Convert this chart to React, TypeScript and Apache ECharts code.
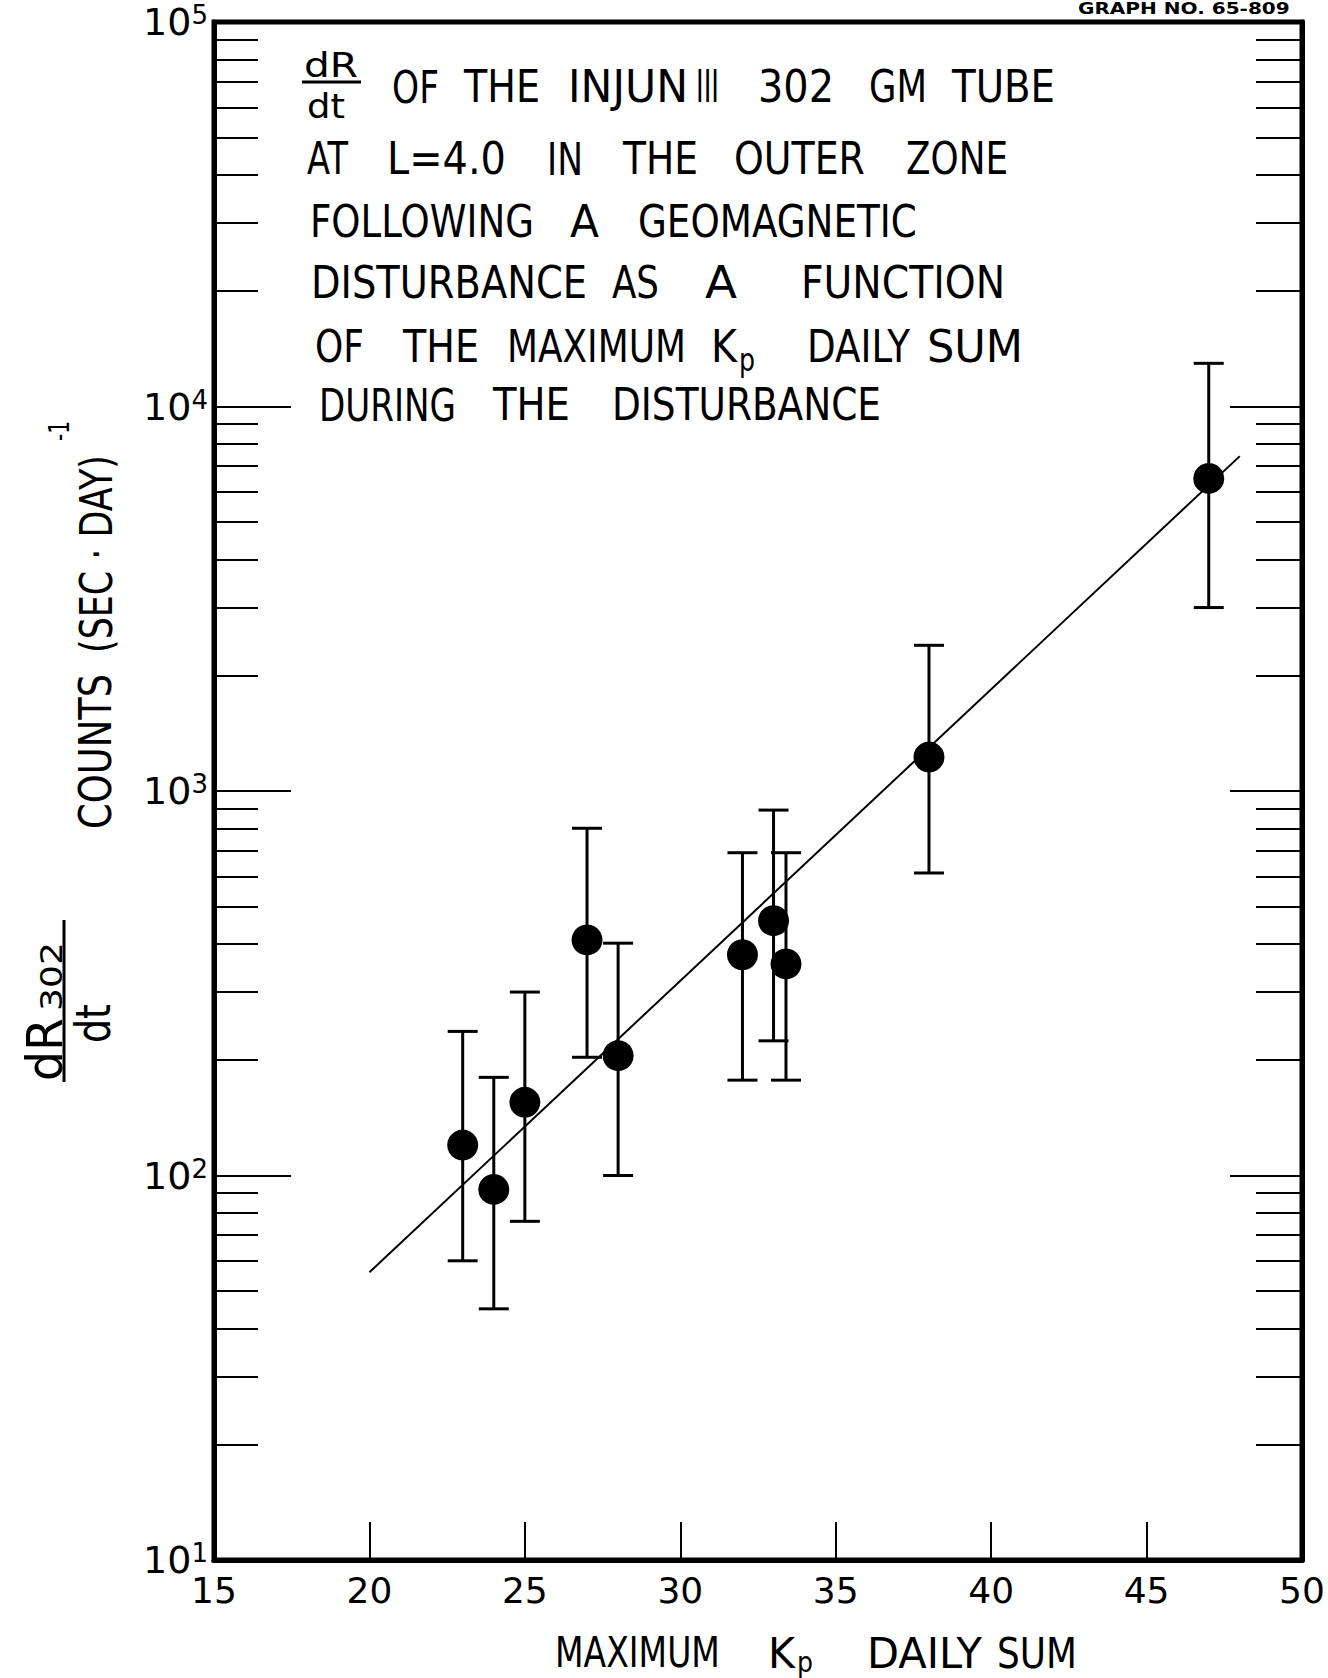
import React, { useEffect, useRef } from "react";
import * as echarts from "echarts";

// ---- data ----
const kpSum = [23, 24, 25, 27, 28, 32, 33, 33.4, 38, 47];
const rate = [120, 92, 155, 410, 205, 375, 460, 355, 1225, 6500];
const rateLow = [60, 45, 76, 203, 100, 177, 224, 177, 612, 3000];
const rateHigh = [237, 180, 300, 800, 402, 691, 892, 691, 2393, 12950];
const fitKp = [20, 48];
const fitRate = [56, 7430];
const xMin = 15;
const xMax = 50;
const xStep = 5;
const yMin = 10;
const yMax = 100000;
const yMajorTicks = [10, 100, 1000, 10000, 100000];
const yMinorTicks = [
  20, 30, 40, 50, 60, 70, 80, 90,
  200, 300, 400, 500, 600, 700, 800, 900,
  2000, 3000, 4000, 5000, 6000, 7000, 8000, 9000,
  20000, 30000, 40000, 50000, 60000, 70000, 80000, 90000,
];

const FONT = "'DejaVu Sans', sans-serif";

let measureCtx: CanvasRenderingContext2D | null = null;
function measure(t: string, size: number, weight = "normal"): number {
  if (!measureCtx) measureCtx = document.createElement("canvas").getContext("2d");
  measureCtx!.font = `${weight} ${size}px 'DejaVu Sans'`;
  return measureCtx!.measureText(t).width;
}

// word: text, left, right, cap-centre y, font size
type Word = [string, number, number, number, number];

const titleWords: Word[] = [
  ["OF", 392, 439, 85, 44], ["THE", 464, 540, 85, 44], ["INJUN", 568, 688, 85, 44], ["III", 696, 719, 85, 44],
  ["302", 758, 834, 85, 44], ["GM", 869, 927, 85, 44], ["TUBE", 952, 1055, 85, 44],
  ["AT", 307, 348, 157, 44], ["L=4.0", 387, 506, 157, 44], ["IN", 547, 583, 157, 44], ["THE", 623, 698, 157, 44],
  ["OUTER", 734, 865, 157, 44], ["ZONE", 906, 1008, 157, 44],
  ["FOLLOWING", 310, 534, 220, 44], ["A", 570, 599, 220, 44], ["GEOMAGNETIC", 638, 917, 220, 44],
  ["DISTURBANCE", 311, 587, 281, 44], ["AS", 612, 659, 281, 44], ["A", 705, 737, 281, 44], ["FUNCTION", 801, 1005, 281, 44],
  ["OF", 315, 364, 345, 44], ["THE", 403, 479, 345, 44], ["MAXIMUM", 507, 686, 345, 44], ["K", 711, 737, 345, 44],
  ["p", 739, 755, 358, 32], ["DAILY", 807, 910, 345, 44], ["SUM", 927, 1023, 345, 44],
  ["DURING", 319, 456, 403, 44], ["THE", 493, 570, 403, 44], ["DISTURBANCE", 612, 881, 403, 44],
  ["dR", 304, 358, 63, 34], ["dt", 307, 345, 104, 34],
  ["MAXIMUM", 555, 720, 1651, 42], ["K", 768, 795, 1651, 42], ["p", 797, 813, 1660, 28],
  ["DAILY", 867, 982, 1651, 42], ["SUM", 997, 1077, 1651, 42],
];

// rotated words: text, bottom y, top y, centre x, font size
const yNameWords: Word[] = [
  ["COUNTS", 829, 674, 94, 44],
  ["(SEC · DAY)", 653, 455, 94, 44],
  ["-1", 441, 421, 57, 28],
  ["dR", 1081, 1018, 43, 50],
  ["302", 1011, 942, 50, 30],
  ["dt", 1043, 1004, 91, 48],
];

function flatWord(w: Word): any {
  const [t, x0, x1, yc, size] = w;
  return {
    type: "text",
    x: x0,
    y: yc + 2,
    scaleX: (x1 - x0) / measure(t, size),
    style: {
      text: t, fontSize: size, fontFamily: FONT, fill: "#000",
      textAlign: "left", textVerticalAlign: "middle", align: "left", verticalAlign: "middle",
    },
  };
}

function rotWord(w: Word): any {
  const [t, y0, y1, xc, size] = w;
  return {
    type: "text",
    x: xc + 2,
    y: y0,
    rotation: Math.PI / 2,
    scaleX: (y0 - y1) / measure(t, size),
    style: {
      text: t, fontSize: size, fontFamily: FONT, fill: "#000",
      textAlign: "left", textVerticalAlign: "middle", align: "left", verticalAlign: "middle",
    },
  };
}

export default function App() {
  const ref = useRef<HTMLDivElement>(null);
  useEffect(() => {
    if (!ref.current) return;
    const chart = echarts.init(ref.current, null, { renderer: "svg" });
    const black = "#000";
    const graphics: any[] = [
      ...titleWords.map(flatWord),
      ...yNameWords.map(rotWord),
      { type: "line", shape: { x1: 302, y1: 82, x2: 361, y2: 82 }, style: { stroke: black, lineWidth: 3 } },
      { type: "line", shape: { x1: 64, y1: 1082, x2: 64, y2: 920 }, style: { stroke: black, lineWidth: 3 } },
      {
        type: "text", x: 1078, y: 16,
        scaleX: 212 / measure("GRAPH NO. 65-809", 15, "bold"),
        style: {
          text: "GRAPH NO. 65-809", fontSize: 15, fontWeight: "bold", fontFamily: FONT, fill: black,
          textAlign: "left", textVerticalAlign: "bottom", align: "left", verticalAlign: "bottom",
        },
      },
    ];

    const yAxisBase = {
      type: "log",
      logBase: 10,
      min: yMin,
      max: yMax,
      splitNumber: 4,
      splitLine: { show: false },
      minorTick: { show: false },
      minorSplitLine: { show: false },
    };
    const tickStyle = { color: black, width: 2 };

    chart.setOption({
      animation: false,
      backgroundColor: "#fff",
      grid: { left: 214, top: 22, width: 1088, height: 1538, show: true, borderColor: black, borderWidth: 5, backgroundColor: "transparent" },
      xAxis: {
        type: "value",
        min: xMin,
        max: xMax,
        interval: xStep,
        axisLine: { show: true, lineStyle: { color: black, width: 5 } },
        axisTick: { show: true, inside: true, length: 38, lineStyle: tickStyle },
        axisLabel: { color: black, fontSize: 36, fontFamily: FONT, margin: 12 },
        splitLine: { show: false },
      },
      yAxis: [
        {
          ...yAxisBase,
          position: "left",
          axisLine: { show: true, lineStyle: { color: black, width: 5 } },
          axisTick: { show: true, inside: true, length: 77, lineStyle: tickStyle, customValues: yMajorTicks },
          axisLabel: {
            margin: 6,
            formatter: (v: number) => `{b|10}{s|${Math.round(Math.log10(v))}}`,
            rich: {
              b: { fontSize: 38, fontFamily: FONT, color: black, lineHeight: 40 },
              s: { fontSize: 26, fontFamily: FONT, color: black, lineHeight: 22, verticalAlign: "top" },
            },
          },
        },
        {
          ...yAxisBase,
          position: "left",
          axisLine: { show: false },
          axisTick: { show: true, inside: true, length: 44, lineStyle: tickStyle, customValues: yMinorTicks },
          axisLabel: { show: false },
        },
        {
          ...yAxisBase,
          position: "right",
          axisLine: { show: true, lineStyle: { color: black, width: 5 } },
          axisTick: { show: true, inside: true, length: 72, lineStyle: tickStyle, customValues: yMajorTicks },
          axisLabel: { show: false },
        },
        {
          ...yAxisBase,
          position: "right",
          axisLine: { show: false },
          axisTick: { show: true, inside: true, length: 46, lineStyle: tickStyle, customValues: yMinorTicks },
          axisLabel: { show: false },
        },
      ],
      series: [
        {
          type: "line",
          data: fitKp.map((k, i) => [k, fitRate[i]]),
          showSymbol: false,
          lineStyle: { color: black, width: 2 },
          z: 2,
        },
        {
          type: "custom",
          data: kpSum.map((k, i) => [k, rateLow[i], rateHigh[i]]),
          encode: { x: 0, y: [1, 2] },
          renderItem: (params: any, api: any) => {
            const x = api.value(0);
            const lo = api.coord([x, api.value(1)]);
            const hi = api.coord([x, api.value(2)]);
            const hw = 15;
            const style = { stroke: black, lineWidth: 3 };
            return {
              type: "group",
              children: [
                { type: "line", shape: { x1: lo[0], y1: lo[1], x2: hi[0], y2: hi[1] }, style },
                { type: "line", shape: { x1: lo[0] - hw, y1: lo[1], x2: lo[0] + hw, y2: lo[1] }, style },
                { type: "line", shape: { x1: hi[0] - hw, y1: hi[1], x2: hi[0] + hw, y2: hi[1] }, style },
              ],
            };
          },
          z: 3,
        },
        {
          type: "scatter",
          data: kpSum.map((k, i) => [k, rate[i]]),
          symbol: "circle",
          symbolSize: 31,
          itemStyle: { color: black, opacity: 1 },
          z: 4,
        },
      ],
      graphic: graphics,
    });
    return () => chart.dispose();
  }, []);
  return <div ref={ref} style={{ position: "absolute", left: 0, top: 0, width: 1328, height: 1678 }} />;
}
